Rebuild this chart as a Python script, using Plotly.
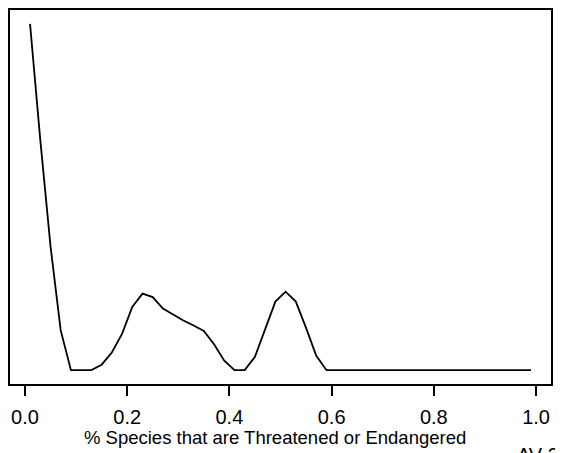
import plotly.graph_objects as go

# proportion of species threatened/endangered (grid of 0.02 steps)
x_vals = [0.01, 0.03, 0.05, 0.07, 0.09, 0.11, 0.13, 0.15, 0.17, 0.19,
          0.21, 0.23, 0.25, 0.27, 0.29, 0.31, 0.33, 0.35, 0.37, 0.39,
          0.41, 0.43, 0.45, 0.47, 0.49, 0.51, 0.53, 0.55, 0.57, 0.59,
          0.61, 0.63, 0.65, 0.67, 0.69, 0.71, 0.73, 0.75, 0.77, 0.79,
          0.81, 0.83, 0.85, 0.87, 0.89, 0.91, 0.93, 0.95, 0.97, 0.99]
density = [3.485, 2.32, 1.25, 0.40, 0.0, 0.0, 0.0, 0.055, 0.178, 0.365,
           0.635, 0.77, 0.735, 0.62, 0.56, 0.50, 0.45, 0.395, 0.26, 0.095,
           0.0, 0.0, 0.135, 0.415, 0.69, 0.79, 0.69, 0.425, 0.145, 0.0,
           0.0, 0.0, 0.0, 0.0, 0.0, 0.0, 0.0, 0.0, 0.0, 0.0,
           0.0, 0.0, 0.0, 0.0, 0.0, 0.0, 0.0, 0.0, 0.0, 0.0]
tick_vals = [0.0, 0.2, 0.4, 0.6, 0.8, 1.0]
tick_text = ["0.0", "0.2", "0.4", "0.6", "0.8", "1.0"]

FONT = "Liberation Sans, Arial, sans-serif"

fig = go.Figure(
    go.Scatter(
        x=x_vals,
        y=density,
        mode="lines",
        line={"color": "black", "width": 1.8},
        hoverinfo="skip",
    )
)

# R-style 4% padding on both axes
xmin, xmax = min(x_vals), max(x_vals)
xpad = (xmax - xmin) * 0.04
ymin, ymax = min(density), max(density)
ypad = (ymax - ymin) * 0.04

# page body has an 8px margin, so the figure is shrunk by that much
fig.update_layout(
    width=555,
    height=445,
    paper_bgcolor="white",
    plot_bgcolor="white",
    showlegend=False,
    margin={"l": 2, "r": 12, "t": 0, "b": 69},
    font={"family": FONT, "color": "black", "size": 16},
    xaxis={
        "range": [xmin - xpad, xmax + xpad],
        "tickvals": tick_vals,
        "ticktext": tick_text,
        "ticks": "outside",
        "ticklen": 10,
        "tickwidth": 1.5,
        "tickcolor": "black",
        "ticklabelstandoff": 4,
        "tickfont": {"family": FONT, "size": 20, "color": "black"},
        "showline": True,
        "mirror": True,
        "linecolor": "black",
        "linewidth": 2,
        "showgrid": False,
        "zeroline": False,
    },
    yaxis={
        "range": [ymin - ypad, ymax + ypad],
        "showticklabels": False,
        "ticks": "",
        "showline": True,
        "mirror": True,
        "linecolor": "black",
        "linewidth": 2,
        "showgrid": False,
        "zeroline": False,
    },
    annotations=[
        {
            "text": "% Species that are Threatened or Endangered",
            "xref": "paper", "yref": "paper",
            "x": 0.49, "y": -0.1755,
            "xanchor": "center", "yanchor": "bottom",
            "showarrow": False,
            "font": {"family": FONT, "size": 18.5, "color": "black"},
        },
        {
            "text": "AV-30",
            "xref": "paper", "yref": "paper",
            "x": 0.9335, "y": -0.2234,
            "xanchor": "left", "yanchor": "bottom",
            "showarrow": False,
            "font": {"family": FONT, "size": 20, "color": "black"},
        },
    ],
)

fig.write_html("out.html")
